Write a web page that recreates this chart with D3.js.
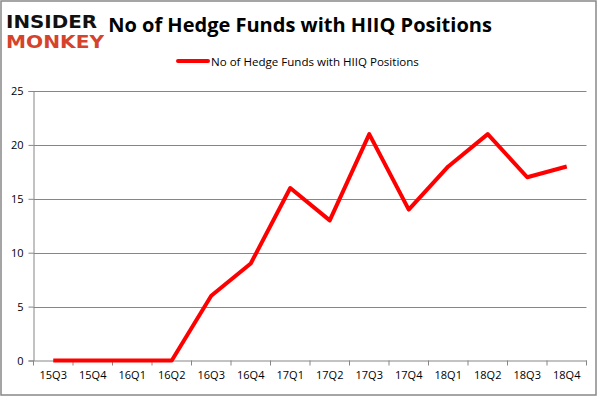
<!DOCTYPE html>
<html><head><meta charset="utf-8">
<script src="https://cdn.jsdelivr.net/npm/d3@7"></script>
<style>body{margin:0;background:#fff}svg{display:block}</style>
</head><body>
<svg id="c" width="601" height="396"></svg>
<script>
const categories = ["15Q3","15Q4","16Q1","16Q2","16Q3","16Q4","17Q1","17Q2","17Q3","17Q4","18Q1","18Q2","18Q3","18Q4"];
const values = [0,0,0,0,6,9,16,13,21,14,18,21,17,18];
const yTicks = [0,5,10,15,20,25];
const title = "No of Hedge Funds with HIIQ Positions";
const seriesName = "No of Hedge Funds with HIIQ Positions";

const svg = d3.select("#c");
const font = "'Open Sans', 'Noto Sans', sans-serif";
const m = {left: 33.5, right: 586.5, top: 91, bottom: 360.5};

svg.append("rect").attr("x",1).attr("y",1).attr("width",595).attr("height",394)
  .attr("fill","#fff").attr("stroke","#888").attr("stroke-width",1.5);

const x = d3.scaleBand().domain(categories).range([m.left, m.right]);
const y = d3.scaleLinear().domain([0,25]).range([m.bottom, m.top]);

// gridlines
svg.append("g").selectAll("line").data(yTicks.filter(d=>d>0)).join("line")
  .attr("x1", m.left).attr("x2", m.right)
  .attr("y1", d=>Math.round(y(d))+0.5).attr("y2", d=>Math.round(y(d))+0.5)
  .attr("stroke","#868686").attr("stroke-width",1);

// y axis
const ya = svg.append("g").attr("transform",`translate(${m.left},0)`)
  .call(d3.axisLeft(y).tickValues(yTicks).tickSize(5).tickPadding(5));
ya.select(".domain").attr("stroke","#868686");
ya.selectAll(".tick line").attr("stroke","#868686");
ya.selectAll(".tick text").attr("font-family",font).attr("font-size",11).attr("fill","#000");

// x axis
const xa = svg.append("g").attr("transform",`translate(0,${m.bottom})`)
  .call(d3.axisBottom(x).tickSize(0).tickPadding(11));
xa.select(".domain").attr("stroke","#868686");
xa.selectAll(".tick text").attr("font-family",font).attr("font-size",11).attr("fill","#000");
const bounds = categories.map(c=>x(c)).concat([m.right]);
svg.append("g").selectAll("line").data(bounds).join("line")
  .attr("x1",d=>d).attr("x2",d=>d).attr("y1",m.bottom).attr("y2",m.bottom+5)
  .attr("stroke","#868686");

// line
const line = d3.line().x((d,i)=>x(categories[i])+x.bandwidth()/2).y(d=>y(d));
svg.append("path").datum(values).attr("d",line).attr("fill","none")
  .attr("stroke","#ff0000").attr("stroke-width",4).attr("stroke-linejoin","round");

// title
const t = svg.append("text").attr("x",300).attr("y",32).attr("text-anchor","middle")
  .attr("font-family",font).attr("font-weight","bold").attr("font-size",21).attr("fill","#000").text(title);
const tw = t.node().getComputedTextLength();
t.attr("font-size", 21*384/tw);

// legend
svg.append("line").attr("x1",178).attr("x2",208).attr("y1",61).attr("y2",61)
  .attr("stroke","#ff0000").attr("stroke-width",4).attr("stroke-linecap","round");
const lt = svg.append("text").attr("x",211).attr("y",65.5).attr("font-family",font).attr("font-size",12).attr("fill","#000").text(seriesName);
const lw = lt.node().getComputedTextLength();
lt.attr("font-size", 12*208/lw);

// logo
svg.append("text").attr("x",6).attr("y",27.5).attr("font-family","'DejaVu Sans', sans-serif").attr("font-weight","bold")
  .attr("font-size",17).attr("textLength",91).attr("lengthAdjust","spacingAndGlyphs").attr("fill","#111").text("INSIDER");
svg.append("text").attr("x",6).attr("y",48).attr("font-family","'DejaVu Sans', sans-serif").attr("font-weight","bold")
  .attr("font-size",17).attr("textLength",98).attr("lengthAdjust","spacingAndGlyphs").attr("fill","#d5432c").text("MONKEY");
</script>
</body></html>
